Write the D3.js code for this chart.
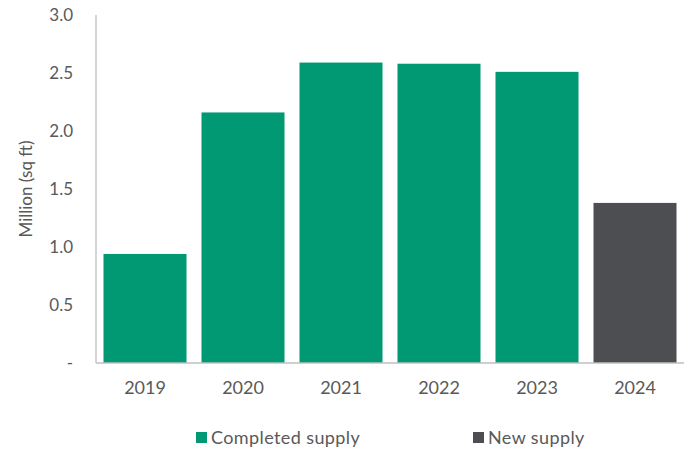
<!DOCTYPE html>
<html>
<head>
<meta charset="utf-8">
<script src="https://cdn.jsdelivr.net/npm/d3@7"></script>
<style>
  body { margin: 0; background: #fff; }
  svg text { font-family: Lato, "Open Sans", sans-serif; fill: #595959; }
</style>
</head>
<body>
<svg id="chart" width="692" height="453"></svg>
<script>
var years = ["2019", "2020", "2021", "2022", "2023", "2024"];
var values = [0.94, 2.16, 2.59, 2.58, 2.51, 1.38];
var kinds = ["Completed supply", "Completed supply", "Completed supply", "Completed supply", "Completed supply", "New supply"];
var yTicks = [0, 0.5, 1.0, 1.5, 2.0, 2.5, 3.0];
var legendNames = ["Completed supply", "New supply"];
var colors = {"Completed supply": "#009973", "New supply": "#4d4e52"};

var margin = {top: 15, left: 96, right: 8, bottom: 90};
var width = 692 - margin.left - margin.right;
var height = 453 - margin.top - margin.bottom;

var svg = d3.select("#chart");
var g = svg.append("g")
    .attr("transform", "translate(" + margin.left + "," + margin.top + ")");

var x = d3.scaleBand()
  .domain(years)
  .range([0, width])
  .paddingInner(0.153)
  .paddingOuter(0.0765);

var y = d3.scaleLinear()
  .domain([0, 3])
  .range([height, 0]);

// y axis labels, no ticks
var yAxis = d3.axisLeft(y)
  .tickValues(yTicks)
  .tickSize(0)
  .tickPadding(23)
  .tickFormat(function(d){ return d === 0 ? "-" : d3.format(".1f")(d); });

var ya = g.append("g").call(yAxis);
ya.select(".domain").remove();
ya.selectAll("text").style("font-size", "17px").attr("fill", "#595959");

var xAxis = d3.axisBottom(x).tickSize(0).tickPadding(18);
var xa = g.append("g")
    .attr("transform", "translate(0," + height + ")")
    .call(xAxis);
xa.select(".domain").remove();
xa.selectAll("text").style("font-size", "18px").attr("fill", "#595959");

var bars = years.map(function(d, i){ return {year: d, value: values[i], kind: kinds[i]}; });

g.selectAll("rect.bar")
    .data(bars)
  .enter().append("rect")
    .attr("class", "bar")
    .attr("x", function(d){ return x(d.year); })
    .attr("y", function(d){ return y(d.value); })
    .attr("width", x.bandwidth())
    .attr("height", function(d){ return height - y(d.value); })
    .style("fill", function(d){ return colors[d.kind]; });

// axis lines
g.append("line")
    .attr("x1", 0).attr("x2", 0)
    .attr("y1", 0).attr("y2", height)
    .style("stroke", "#bfbfbf").style("stroke-width", 1.3);
g.append("line")
    .attr("x1", 0).attr("x2", width)
    .attr("y1", height).attr("y2", height)
    .style("stroke", "#bfbfbf").style("stroke-width", 1.3);

// y title
svg.append("text")
    .attr("transform", "translate(32," + (margin.top + height / 2) + ") rotate(-90)")
    .attr("text-anchor", "middle")
    .style("font-size", "17px")
    .text("Million (sq ft)");

// legend
var legendX = [196, 473];
var lg = svg.selectAll("g.legend")
    .data(legendNames)
  .enter().append("g")
    .attr("class", "legend")
    .attr("transform", function(d, i){ return "translate(" + legendX[i] + ",432)"; });
lg.append("rect")
    .attr("width", 11).attr("height", 11)
    .style("fill", function(d){ return colors[d]; });
lg.append("text")
    .attr("x", 15).attr("y", 12)
    .style("font-size", "18px")
    .style("letter-spacing", "0.4px")
    .text(function(d){ return d; });
</script>
</body>
</html>
